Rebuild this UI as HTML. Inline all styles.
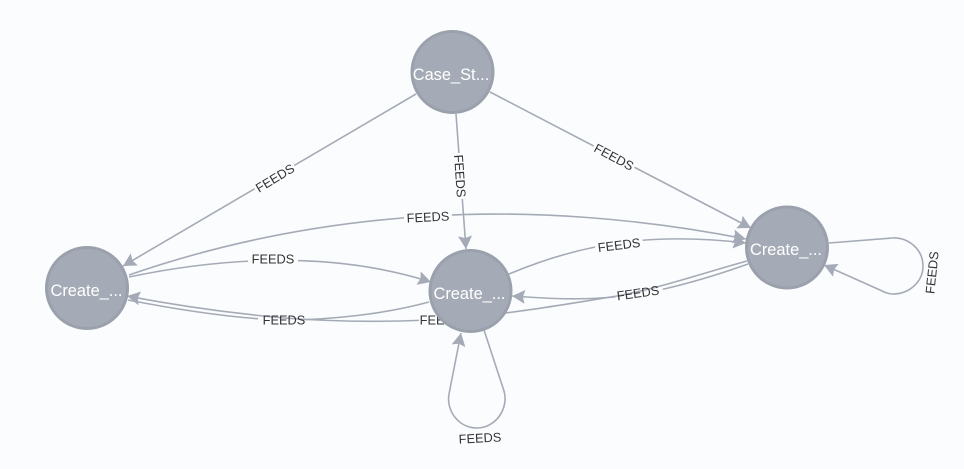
<!DOCTYPE html>
<html><head><meta charset="utf-8"><style>
html,body{margin:0;padding:0;background:#fbfcfe;width:964px;height:469px;overflow:hidden}
svg{display:block}
text{font-family:"Liberation Sans",Arial,sans-serif}
.e{fill:none;stroke:#a5abb6;stroke-width:1.6}
.l{font-size:12.8px;fill:#333;text-anchor:middle}
.k{fill:#fbfcfe}
.n{fill:#a5abb6;stroke:#9aa1ac;stroke-width:3}
.t{font-size:16.4px;fill:#fff;text-anchor:middle}
</style></head><body>
<svg width="964" height="469" viewBox="0 0 964 469" xmlns="http://www.w3.org/2000/svg">
<defs><marker id="a" markerUnits="userSpaceOnUse" markerWidth="16" markerHeight="16" refX="13" refY="7" orient="auto"><path d="M0 0L13 7L0 14L2 7Z" fill="#a5abb6"/></marker></defs>
<rect width="964" height="469" fill="#fbfcfe"/>
<path class="e" d="M416 94L123 266" marker-end="url(#a)"/>
<path class="e" d="M456 114L466 249" marker-end="url(#a)"/>
<path class="e" d="M490 92L751 228" marker-end="url(#a)"/>
<path class="e" d="M129 275C230 240 330 222 430 216C530 210 640 218 746 239" marker-end="url(#a)"/>
<path class="e" d="M129 277C220 258 330 250 431 282" marker-end="url(#a)"/>
<path class="e" d="M509 274C590 240 660 233 746 243" marker-end="url(#a)"/>
<path class="e" d="M829 243L892 238C909 237 923 250 923 266C923 282 909 294 893 294C888 294 884 292 880 290L824 265" marker-end="url(#a)"/>
<path class="e" d="M484 330L504 391C509 408 496 428 477 428C458 428 446 410 449 394L461 333" marker-end="url(#a)"/>

<rect class="k" x="252" y="168" width="46" height="20" transform="rotate(-31 275 178)"/>
<rect class="k" x="437" y="167" width="46" height="18" transform="rotate(86 460 176)"/>
<rect class="k" x="591" y="148" width="46" height="18" transform="rotate(28 614 157)"/>
<rect class="k" x="404" y="208" width="48" height="18" transform="rotate(-3 428 217)"/>
<rect class="k" x="248" y="250" width="50" height="18"/>
<rect class="k" x="595" y="236" width="48" height="18" transform="rotate(-7 619 245)"/>

<path class="e" d="M429 302C385 314 330 320 284 320C240 319 190 312 128 300"/>
<rect class="k" x="258" y="311" width="47" height="18"/>
<path class="e" d="M748 264C720 274 690 283 664 289C640 294 620 297 600 298C570 300 540 298 512 296" marker-end="url(#a)"/>
<rect class="k" x="615" y="285" width="48" height="17" transform="rotate(-8 638 293)"/>
<path class="e" d="M747 261C700 274 660 288 617 296C580 302 540 309 505 313C470 318 440 320 400 321C350 322 310 320 284 318C240 314 190 308 127 296" marker-end="url(#a)"/>
<rect class="k" x="419" y="311" width="46" height="18"/>

<text class="l" x="275" y="182.500" transform="rotate(-31 275 178)">FEEDS</text>
<text class="l" x="460" y="180.500" transform="rotate(86 460 176)">FEEDS</text>
<text class="l" x="614" y="161.500" transform="rotate(28 614 157)">FEEDS</text>
<text class="l" x="428" y="221.500" transform="rotate(-3 428 217)">FEEDS</text>
<text class="l" x="273" y="263.500">FEEDS</text>
<text class="l" x="284" y="324.500">FEEDS</text>
<text class="l" x="441" y="324.500">FEEDS</text>
<text class="l" x="619" y="249.500" transform="rotate(-7 619 245)">FEEDS</text>
<text class="l" x="638" y="297.500" transform="rotate(-8 638 293)">FEEDS</text>
<text class="l" x="932" y="277" transform="rotate(-84 932 272.500)">FEEDS</text>
<text class="l" x="480" y="442.500" transform="rotate(-3 480 438)">FEEDS</text>

<circle class="n" cx="452.500" cy="72" r="40.500"/>
<text class="t" x="451" y="80">Case_St...</text>
<circle class="n" cx="87" cy="288" r="40.500"/>
<text class="t" x="86.500" y="296">Create_...</text>
<circle class="n" cx="470.500" cy="291" r="40.500"/>
<text class="t" x="469.500" y="299">Create_...</text>
<circle class="n" cx="787" cy="247.500" r="40.500"/>
<text class="t" x="786" y="255">Create_...</text>
</svg>
</body></html>
